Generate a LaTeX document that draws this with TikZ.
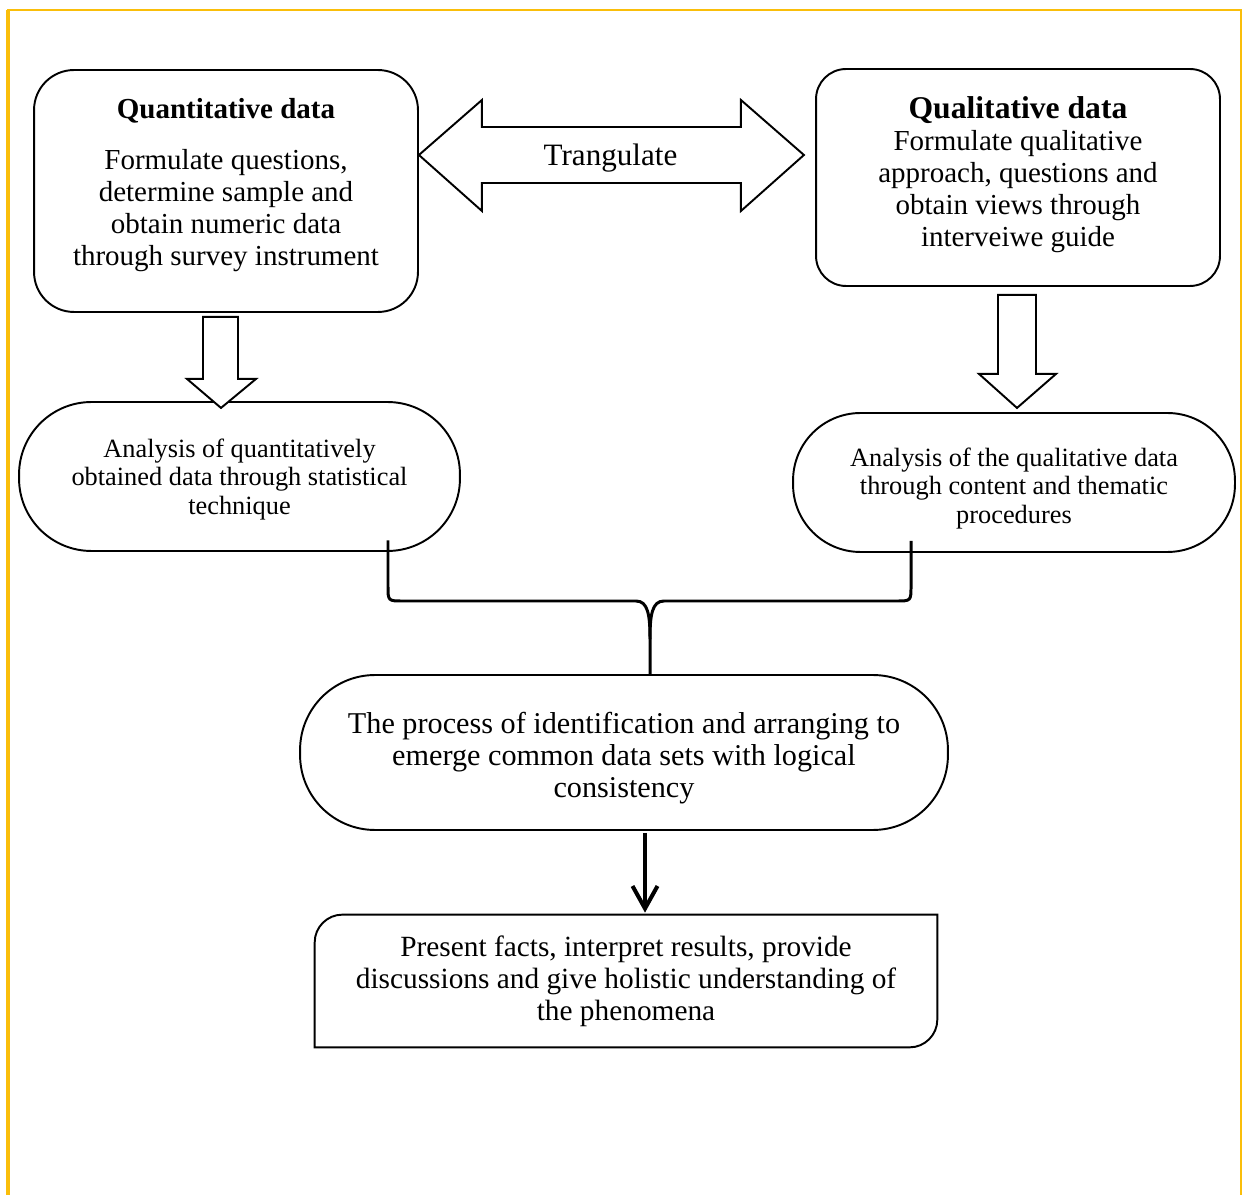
\documentclass[tikz,border=0pt]{standalone}
\usepackage{fontspec}
\setmainfont{Liberation Serif}
\usetikzlibrary{calc,positioning,arrows.meta}
\definecolor{framegold}{RGB}{250,190,10}
\tikzset{
  databox/.style={draw, line width=1.1pt},
  bodytext/.style={align=center, inner sep=0pt, font=\fontsize{16.5}{18.2}\selectfont},
  stadium/.style={draw, line width=1.1pt, align=center},
  blockarrow/.style={draw, fill=white, line width=1.1pt, line join=miter},
  brace/.style={line width=1.7pt},
  flowarrow/.style={line width=2.3pt, -{Straight Barb[length=4.5mm,width=5mm]}}
}

\begin{document}
\begin{tikzpicture}[x=0.02cm, y=-0.02cm]
			\useasboundingbox (0,0) rectangle (1244,1195);
			% frame
			\draw[framegold, line width=1.2pt] (8,1195) -- (8,10) -- (1241,10) -- (1241,1195);
			\draw[framegold, line width=2pt] (8,10) -- (8,1195);
			% top boxes
			\node[databox, rounded corners=0.8cm, minimum width=7.68cm, minimum height=4.84cm] (quant) at (226,191) {};
			\node[bodytext] (quanttext) at (226,185) {{\bfseries Quantitative data}\\[10.8pt]Formulate questions,\\determine sample and\\obtain numeric data\\through survey instrument};
			\node[databox, rounded corners=0.6cm, minimum width=8.08cm, minimum height=4.34cm] (qual) at (1018,177.5) {};
			\node[bodytext] (qualtext) at (1018,175) {{\fontsize{18}{20}\selectfont\bfseries Qualitative data}\\Formulate qualitative\\approach, questions and\\obtain views through\\interveiwe guide};
			% triangulation
			\coordinate (tri) at (610.5,155);
			\draw[blockarrow] (quant.east |- tri) -- ++(63,-55) -- ++(0,27) -- ++(259,0) -- ++(0,-27) -- ++(63,55) -- ++(-63,56) -- ++(0,-28) -- ++(-259,0) -- ++(0,28) -- cycle;
			\node[font=\fontsize{17.7}{20}\selectfont] (tritext) at ($(tri)+(0,3)$) {Trangulate};
			% analysis
			\node[stadium, rounded corners=1.45cm, minimum width=8.82cm, minimum height=2.98cm] (anaquant) at (239.5,476.5) {};
			\node[bodytext, font=\fontsize{15}{16.4}\selectfont] (anaquanttext) at ($(anaquant.center)+(0,3)$) {Analysis of quantitatively\\obtained data through statistical\\technique};
			\node[stadium, rounded corners=1.35cm, minimum width=8.84cm, minimum height=2.78cm] (anaqual) at (1014,482.5) {};
			\node[bodytext, font=\fontsize{15}{16.2}\selectfont] (anaqualtext) at ($(anaqual.center)+(0,6)$) {Analysis of the qualitative data\\through content and thematic\\procedures};
			\draw[blockarrow] ($(quant.south)+(-23,4)$) -- ++(35,0) -- ++(0,62) -- ++(18,0) -- ++(-35,29) -- ++(-34,-29) -- ++(16,0) -- cycle;
			\draw[blockarrow] ($(qual.south)+(-20,8)$) -- ++(38,0) -- ++(0,79) -- ++(20,0) -- ++(-39,34) -- ++(-38,-34) -- ++(19,0) -- cycle;
			% merging
			\node[stadium, rounded corners=1.5cm, minimum width=12.96cm, minimum height=3.1cm] (process) at (624,752.5) {};
			\node[bodytext, font=\fontsize{17.2}{18.2}\selectfont] (processtext) at ($(process.center)+(0,6)$) {The process of identification and arranging to\\emerge common data sets with logical\\consistency};
			\coordinate (bl) at ($(anaquant.south)+(148.5,-11.5)$);
			\coordinate (br) at ($(anaqual.south)+(-103,-12)$);
			\coordinate (bm) at ($(process.north)+(26,-35)$);
			\draw[brace] (bl) -- (388,586) .. controls (388,601) .. (403,601) -- (636,601) .. controls (648,601) and (650,615) .. (bm) -- (bm |- process.north);
			\draw[brace] (br) -- (911,586) .. controls (911,601) .. (896,601) -- (664,601) .. controls (652,601) and (650,615) .. (bm);
			% result
			\node[minimum width=12.44cm, minimum height=2.64cm, align=center, font=\fontsize{16.7}{18.2}\selectfont] (present) at (626,981) {Present facts, interpret results, provide\\discussions and give holistic understanding of\\the phenomena};
			\draw[line width=1.1pt] (present.south west) -- ([yshift=-0.55cm]present.north west) .. controls ([yshift=-0.25cm]present.north west) and ([xshift=0.25cm]present.north west) .. ([xshift=0.55cm]present.north west) -- (present.north east) -- ([yshift=0.55cm]present.south east) .. controls ([yshift=0.25cm]present.south east) and ([xshift=-0.25cm]present.south east) .. ([xshift=-0.55cm]present.south east) -- cycle;
			\draw[flowarrow] ($(process.south)+(21,2)$) -- ($(present.north)+(19,-2)$);
	\end{tikzpicture}
\end{document}
